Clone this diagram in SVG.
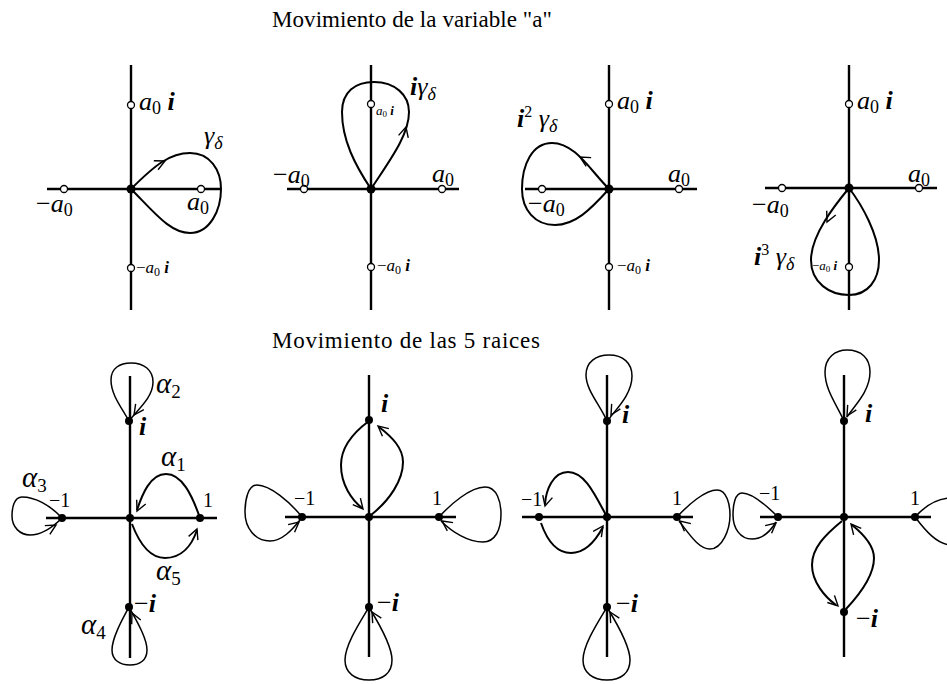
<svg xmlns="http://www.w3.org/2000/svg" xmlns:xlink="http://www.w3.org/1999/xlink" width="947" height="684" viewBox="0 0 947 684">
<style>
.ax{stroke:#000;stroke-width:2.4;fill:none}
.cv{stroke:#000;stroke-width:2;fill:none}
.lp{stroke:#000;stroke-width:1.5;fill:none}
.oc{fill:#fff;stroke:#000;stroke-width:1.3}
.dt{fill:#000}
.t{font-family:'Liberation Serif','Times New Roman',serif;fill:#000}
.m{font-family:'Liberation Serif','Times New Roman',serif;font-style:italic;font-size:26px;fill:#000}
.ms{font-family:'Liberation Serif','Times New Roman',serif;font-style:italic;font-size:17px;fill:#000}
.mt{font-family:'Liberation Serif','Times New Roman',serif;font-style:italic;font-size:13px;fill:#000}
.n{font-family:'Liberation Serif','Times New Roman',serif;font-size:20px;fill:#000}
.al{font-family:'Liberation Serif','Times New Roman',serif;font-style:italic;font-size:29px;fill:#000}
.up{font-style:normal}
.b{font-weight:bold}
</style>
<defs>
<path id="arr" d="M-10,-5 L0,0 L-10,5" fill="none" stroke="#000" stroke-width="1.4"/>
</defs>

<text class="t" x="272" y="27" font-size="23" textLength="280" lengthAdjust="spacing">Movimiento de la variable "a"</text>
<text class="t" x="272" y="348" font-size="23" textLength="268" lengthAdjust="spacing">Movimiento de las 5 raices</text>

<!-- Top panel 1 -->
<g id="top1">
<line class="ax" x1="131" y1="65" x2="131" y2="310"/>
<line class="ax" x1="47" y1="189" x2="221" y2="189"/>
<path class="cv" d="M131,189 C155,165 170,153 190,153 C210,153 221,170 221,189 C221,210 210,233 190,233 C170,233 155,213 131,189"/>
<use xlink:href="#arr" transform="translate(165,161) rotate(-25)"/>
<circle class="dt" cx="131" cy="189" r="4.5"/>
<circle class="oc" cx="131" cy="105" r="3.5"/>
<circle class="oc" cx="131" cy="268" r="3.5"/>
<circle class="oc" cx="64" cy="189" r="3.5"/>
<circle class="oc" cx="201" cy="189" r="3.5"/>
<text class="m" x="139" y="110">a<tspan class="up" font-size="18" dy="4">0</tspan><tspan class="b" dy="-4"> i</tspan></text>
<text class="m" x="204" y="144">γ<tspan font-size="18" dy="5">δ</tspan></text>
<text class="m" x="36" y="212"><tspan class="up">−</tspan>a<tspan class="up" font-size="18" dy="4">0</tspan></text>
<text class="m" x="187" y="210">a<tspan class="up" font-size="18" dy="4">0</tspan></text>
<text class="ms" x="136" y="273"><tspan class="up">−</tspan>a<tspan class="up" font-size="12" dy="3">0</tspan><tspan class="b" dy="-3"> i</tspan></text>
</g>

<!-- Top panel 2 -->
<g id="top2">
<line class="ax" x1="371" y1="65" x2="371" y2="310"/>
<line class="ax" x1="287" y1="189" x2="459" y2="189"/>
<path class="cv" d="M371,189 C355,165 342,140 342,112 C342,92 355,82 374,82 C395,82 409,95 409,112 C409,135 390,160 371,189"/>
<use xlink:href="#arr" transform="translate(406,127) rotate(-75)"/>
<circle class="dt" cx="371" cy="189" r="4.5"/>
<circle class="oc" cx="371" cy="104" r="3.5"/>
<circle class="oc" cx="371" cy="267" r="3.5"/>
<circle class="oc" cx="304" cy="189" r="3.5"/>
<circle class="oc" cx="442" cy="189" r="3.5"/>
<text class="m" x="410" y="95"><tspan class="b">i</tspan>γ<tspan font-size="18" dy="5">δ</tspan></text>
<text class="mt" x="376" y="115">a<tspan class="up" font-size="9" dy="2">0</tspan><tspan class="b" dy="-2"> i</tspan></text>
<text class="m" x="273" y="183"><tspan class="up">−</tspan>a<tspan class="up" font-size="18" dy="4">0</tspan></text>
<text class="m" x="432" y="182">a<tspan class="up" font-size="18" dy="4">0</tspan></text>
<text class="ms" x="377" y="271"><tspan class="up">−</tspan>a<tspan class="up" font-size="12" dy="3">0</tspan><tspan class="b" dy="-3"> i</tspan></text>
</g>

<!-- Top panel 3 -->
<g id="top3">
<line class="ax" x1="609" y1="65" x2="609" y2="310"/>
<line class="ax" x1="525" y1="189" x2="697" y2="189"/>
<path class="cv" d="M609,189 C590,170 575,143 552,143 C532,143 522,165 522,189 C522,210 535,225 555,225 C575,225 590,210 609,189"/>
<use xlink:href="#arr" transform="translate(580,157) rotate(-150)"/>
<circle class="dt" cx="609" cy="189" r="4.5"/>
<circle class="oc" cx="609" cy="104" r="3.5"/>
<circle class="oc" cx="609" cy="267" r="3.5"/>
<circle class="oc" cx="542" cy="189" r="3.5"/>
<circle class="oc" cx="679" cy="189" r="3.5"/>
<text class="m" x="517" y="127"><tspan class="b">i</tspan><tspan class="up" font-size="16" dy="-10">2</tspan><tspan dy="10"> γ</tspan><tspan font-size="18" dy="5">δ</tspan></text>
<text class="m" x="617" y="109">a<tspan class="up" font-size="18" dy="4">0</tspan><tspan class="b" dy="-4"> i</tspan></text>
<text class="m" x="668" y="182">a<tspan class="up" font-size="18" dy="4">0</tspan></text>
<text class="m" x="528" y="212"><tspan class="up">−</tspan>a<tspan class="up" font-size="18" dy="4">0</tspan></text>
<text class="ms" x="617" y="271"><tspan class="up">−</tspan>a<tspan class="up" font-size="12" dy="3">0</tspan><tspan class="b" dy="-3"> i</tspan></text>
</g>

<!-- Top panel 4 -->
<g id="top4">
<line class="ax" x1="849" y1="65" x2="849" y2="310"/>
<line class="ax" x1="765" y1="188" x2="937" y2="188"/>
<path class="cv" d="M849,188 C835,205 811,235 811,260 C811,283 830,295 849,295 C868,295 879,280 879,260 C879,235 862,205 849,188"/>
<use xlink:href="#arr" transform="translate(827,222) rotate(115)"/>
<circle class="dt" cx="849" cy="188" r="4.5"/>
<circle class="oc" cx="849" cy="104" r="3.5"/>
<circle class="oc" cx="849" cy="267" r="3.5"/>
<circle class="oc" cx="782" cy="188" r="3.5"/>
<circle class="oc" cx="919" cy="188" r="3.5"/>
<text class="m" x="857" y="109">a<tspan class="up" font-size="18" dy="4">0</tspan><tspan class="b" dy="-4"> i</tspan></text>
<text class="m" x="908" y="182">a<tspan class="up" font-size="18" dy="4">0</tspan></text>
<text class="m" x="752" y="213"><tspan class="up">−</tspan>a<tspan class="up" font-size="18" dy="4">0</tspan></text>
<text class="m" x="754" y="265"><tspan class="b">i</tspan><tspan class="up" font-size="16" dy="-10">3</tspan><tspan dy="10"> γ</tspan><tspan font-size="18" dy="5">δ</tspan></text>
<text class="mt" x="812" y="270"><tspan class="up">−</tspan>a<tspan class="up" font-size="9" dy="2">0</tspan><tspan class="b" dy="-2"> i</tspan></text>
</g>

<!-- Bottom panel 1 -->
<g id="bot1">
<line class="ax" x1="130" y1="376" x2="130" y2="658"/>
<line class="ax" x1="46" y1="518" x2="217" y2="518"/>
<path class="lp" d="M129,421 C122,408 111,395 111,380 C111,368 120,363 131,363 C144,363 153,370 153,382 C153,398 137,410 129,421"/>
<use xlink:href="#arr" transform="translate(134,415) rotate(125)"/>
<path class="cv" d="M200,518 C192,495 182,474 166,474 C150,474 142,495 137,510"/>
<use xlink:href="#arr" transform="translate(137,511) rotate(115)"/>
<path class="cv" d="M132,524 C140,545 150,558 165,558 C182,558 192,545 197,530"/>
<use xlink:href="#arr" transform="translate(197,529) rotate(-68)"/>
<path class="lp" d="M62,518 C50,505 35,497 22,497 C14,497 12,508 12,516 C12,527 20,535 30,535 C42,535 52,528 62,518"/>
<use xlink:href="#arr" transform="translate(56,525) rotate(-30)"/>
<path class="lp" d="M129,607 C122,620 112,638 112,650 C112,660 120,665 130,665 C140,665 147,660 147,650 C147,638 136,620 129,607"/>
<use xlink:href="#arr" transform="translate(132,613) rotate(-115)"/>
<circle class="dt" cx="129" cy="421" r="4"/>
<circle class="dt" cx="130" cy="518" r="4"/>
<circle class="dt" cx="200" cy="518" r="4"/>
<circle class="dt" cx="62" cy="518" r="4"/>
<circle class="dt" cx="129" cy="607" r="4"/>
<text class="al" x="156" y="393">α<tspan class="up" font-size="19" dy="5">2</tspan></text>
<text class="m" x="139" y="435" font-size="21"><tspan class="b">i</tspan></text>
<text class="al" x="161" y="466">α<tspan class="up" font-size="19" dy="5">1</tspan></text>
<text class="n" x="203" y="507">1</text>
<text class="al" x="22" y="487">α<tspan class="up" font-size="19" dy="5">3</tspan></text>
<text class="n" x="49" y="507">−1</text>
<text class="al" x="156" y="580">α<tspan class="up" font-size="19" dy="5">5</tspan></text>
<text class="m" x="134" y="612" font-size="21"><tspan class="up">−</tspan><tspan class="b">i</tspan></text>
<text class="al" x="81" y="634">α<tspan class="up" font-size="19" dy="5">4</tspan></text>
</g>

<!-- Bottom panel 2 -->
<g id="bot2">
<line class="ax" x1="369" y1="375" x2="369" y2="657"/>
<line class="ax" x1="285" y1="517" x2="456" y2="517"/>
<path class="cv" d="M369,421 C350,435 341,450 341,465 C341,485 352,500 362,508"/>
<use xlink:href="#arr" transform="translate(363,509) rotate(50)"/>
<path class="cv" d="M371,515 C390,500 403,480 403,462 C403,448 392,437 379,427"/>
<use xlink:href="#arr" transform="translate(378,426) rotate(-140)"/>
<path class="lp" d="M302,517 C290,502 270,485 257,485 C248,485 245,500 245,512 C245,528 255,541 270,541 C282,541 292,530 300,520"/>
<use xlink:href="#arr" transform="translate(299,522) rotate(-40)"/>
<path class="lp" d="M439,517 C450,505 470,487 485,487 C497,487 501,502 501,514 C501,530 495,542 483,542 C468,542 452,532 441,521"/>
<use xlink:href="#arr" transform="translate(442,521) rotate(-145)"/>
<path class="lp" d="M369,607 C360,622 345,645 345,660 C345,673 355,680 369,680 C383,680 392,673 392,660 C392,645 378,622 370,609"/>
<use xlink:href="#arr" transform="translate(372,612) rotate(-120)"/>
<circle class="dt" cx="369" cy="420" r="4"/>
<circle class="dt" cx="369" cy="517" r="4"/>
<circle class="dt" cx="439" cy="517" r="4"/>
<circle class="dt" cx="302" cy="517" r="4"/>
<circle class="dt" cx="369" cy="607" r="4"/>
<text class="m" x="381" y="412" font-size="21"><tspan class="b">i</tspan></text>
<text class="n" x="294" y="505">−1</text>
<text class="n" x="432" y="505">1</text>
<text class="m" x="377" y="611" font-size="21"><tspan class="up">−</tspan><tspan class="b">i</tspan></text>
</g>

<!-- Bottom panel 3 -->
<g id="bot3">
<line class="ax" x1="607" y1="375" x2="607" y2="657"/>
<line class="ax" x1="522" y1="517" x2="693" y2="517"/>
<path class="lp" d="M607,421 C600,405 586,390 586,375 C586,362 596,355 609,355 C623,355 632,363 632,376 C632,395 615,410 609,419"/>
<use xlink:href="#arr" transform="translate(611,415) rotate(120)"/>
<path class="cv" d="M607,517 C595,495 585,472 568,472 C553,472 546,490 545,504"/>
<use xlink:href="#arr" transform="translate(545,506) rotate(105)"/>
<path class="cv" d="M541,523 C548,543 558,553 571,553 C585,553 596,540 603,527"/>
<use xlink:href="#arr" transform="translate(603,526) rotate(-55)"/>
<path class="lp" d="M677,517 C688,505 705,490 717,490 C727,490 730,505 730,515 C730,530 722,549 710,549 C698,549 688,532 679,521"/>
<use xlink:href="#arr" transform="translate(680,521) rotate(-140)"/>
<path class="lp" d="M607,607 C598,622 583,645 583,660 C583,673 593,680 607,680 C621,680 630,673 630,660 C630,645 616,622 608,609"/>
<use xlink:href="#arr" transform="translate(610,612) rotate(-120)"/>
<circle class="dt" cx="607" cy="421" r="4"/>
<circle class="dt" cx="607" cy="517" r="4"/>
<circle class="dt" cx="677" cy="517" r="4"/>
<circle class="dt" cx="539" cy="517" r="4"/>
<circle class="dt" cx="607" cy="607" r="4"/>
<text class="m" x="622" y="423" font-size="21"><tspan class="b">i</tspan></text>
<text class="n" x="521" y="506">−1</text>
<text class="n" x="672" y="505">1</text>
<text class="m" x="616" y="612" font-size="21"><tspan class="up">−</tspan><tspan class="b">i</tspan></text>
</g>

<!-- Bottom panel 4 -->
<g id="bot4">
<line class="ax" x1="844" y1="375" x2="844" y2="657"/>
<line class="ax" x1="760" y1="517" x2="931" y2="517"/>
<path class="lp" d="M844,421 C837,405 825,390 825,372 C825,358 835,350 847,350 C861,350 870,358 870,372 C870,392 853,407 847,417"/>
<use xlink:href="#arr" transform="translate(847,416) rotate(120)"/>
<path class="lp" d="M778,517 C766,505 752,493 742,493 C735,493 733,505 733,515 C733,528 740,539 752,539 C762,539 770,532 776,522"/>
<use xlink:href="#arr" transform="translate(776,523) rotate(-40)"/>
<path class="lp" d="M952,498 C937,498 925,506 915,517 C925,530 937,545 952,545"/>
<path class="cv" d="M842,521 C825,535 812,548 812,565 C812,582 825,597 836,605"/>
<use xlink:href="#arr" transform="translate(838,606) rotate(45)"/>
<path class="cv" d="M846,609 C862,592 874,575 874,558 C874,545 862,533 852,525"/>
<use xlink:href="#arr" transform="translate(851,524) rotate(-130)"/>
<circle class="dt" cx="844" cy="421" r="4"/>
<circle class="dt" cx="844" cy="517" r="4"/>
<circle class="dt" cx="915" cy="517" r="4"/>
<circle class="dt" cx="778" cy="517" r="4"/>
<circle class="dt" cx="844" cy="612" r="4"/>
<text class="m" x="865" y="422" font-size="21"><tspan class="b">i</tspan></text>
<text class="n" x="759" y="500">−1</text>
<text class="n" x="910" y="505">1</text>
<text class="m" x="856" y="627" font-size="21"><tspan class="up">−</tspan><tspan class="b">i</tspan></text>
</g>
</svg>
